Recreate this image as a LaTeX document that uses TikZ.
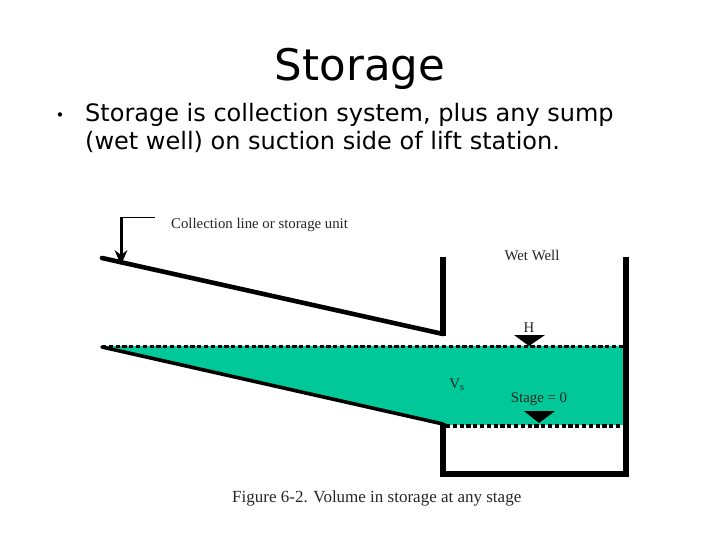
\documentclass[tikz,border=0pt]{standalone}
\usepackage{fontspec}
\setmainfont[Ligatures=NoCommon]{DejaVu Sans}
\newfontfamily\figfont{Liberation Serif}
\begin{document}
\begin{tikzpicture}[x=1pt,y=-1pt,
  wall/.style={line width=5.4pt,black},
  pipe/.style={line width=4.6pt,line cap=round,black},
  level/.style={line width=4pt,dash pattern=on 4.2pt off 2.6pt,black},
  levelthin/.style={line width=3pt,dash pattern=on 4.2pt off 2.6pt,black},
  fig/.style={font=\figfont\fontsize{14.8}{17}\selectfont,text=black!85,inner sep=0pt},
  slide/.style={inner sep=0pt,align=left,text=black}]
\useasboundingbox (0,0) rectangle (720,540);
\definecolor{water}{RGB}{0,200,152}
\fill[white] (0,0) rectangle (720,540);
% text
\node[inner sep=0pt,font=\fontsize{43.5}{50}\selectfont,text=black] (title) at (360,69) {Storage};
\node[inner sep=0pt,font=\fontsize{15}{15}\selectfont,text=black] (bullet) at (60,117) {•};
\node[slide,anchor=west,font=\fontsize{24}{28}\selectfont] (body) at (85,128) {Storage is collection system, plus any sump\\(wet well) on suction side of lif\kern0.6pt t station.};
% water
\fill[water] (102,346) -- (625,346) -- (625,425) -- (443,425) -- cycle;
% coordinates
\coordinate (p1) at (102,258);
\coordinate (p2) at (443,334);
\coordinate (wt) at (443,257);
\coordinate (q1) at (102,347);
\coordinate (q2) at (443,424);
\coordinate (wb) at (443,474);
\coordinate (rb) at (626,474);
\coordinate (rt) at (626,257);
\coordinate (a0) at (155,217);
\coordinate (a1) at (121,217);
\coordinate (a2) at (121,265);
% pipes and walls
\draw[pipe] (p1) -- (p2);
\draw[wall] (wt) -- (443,336);
\draw[pipe,line width=3.6pt] (q1) -- (q2);
\draw[wall] (443,423) -- (wb);
\draw[wall] (440.3,474) -- (rb);
\draw[wall] (rt) -- (626,476.7);
% dashed levels
\draw[levelthin] (102,346) -- (623,346);
\draw[level] (446,425.5) -- (623,425.5);
% arrow
\draw[line width=0.9pt,black] (a0) -- (a1);
\draw[line width=3pt,black] (a1) -- (121,260);
\fill[black] (114.5,250) -- (121,255) -- (127.5,250) -- (a2) -- cycle;
% triangles
\fill[black] (514,335) -- (545,335) -- (529,346) -- cycle;
\fill[black] (524,411) -- (555,411) -- (539,423) -- cycle;
% labels
\node[fig,anchor=west] (lab) at (171,225) {Collection line or storage unit};
\node[fig] (ww) at (532,255) {Wet Well};
\node[fig] (h) at (529,328) {H};
\node[fig] (vs) at (457,385) {V\textsubscript{s}};
\node[fig] (st) at (539,399) {Stage = 0};
\node[fig,font=\figfont\fontsize{17}{20}\selectfont,anchor=west] (cap) at (232,498) {Figure 6-2. Volume in storage at any stage};
\end{tikzpicture}
\end{document}
